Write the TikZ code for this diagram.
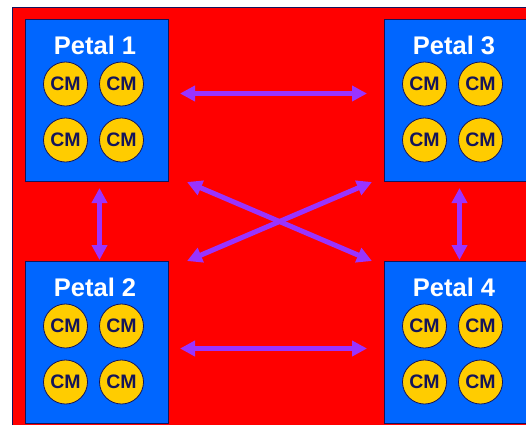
\documentclass[tikz,border=0pt]{standalone}
\usepackage{fontspec}
\setmainfont{Liberation Sans}
\usepackage{tikz}
\usetikzlibrary{arrows.meta}

\definecolor{navy}{RGB}{20,20,90}
\definecolor{redbg}{RGB}{255,0,0}
\definecolor{petalblue}{RGB}{0,102,255}
\definecolor{cmgold}{RGB}{255,204,0}
\definecolor{linkviolet}{RGB}{153,51,255}

\tikzset{
  petal/.style={draw=navy,line width=1pt,fill=petalblue,minimum width=143pt,minimum height=162pt,inner sep=0pt},
  petaltitle/.style={text=white,font=\fontsize{25.5}{27}\selectfont\bfseries},
  cmnode/.style={circle,draw=navy,line width=0.8pt,fill=cmgold,minimum size=44pt,inner sep=0pt,text=navy,font=\fontsize{19.5}{20}\selectfont\bfseries},
  link/.style={linkviolet,line width=5pt,{Triangle[length=15pt,width=15pt]}-{Triangle[length=15pt,width=15pt]}}
}

\begin{document}
\begin{tikzpicture}[x=1pt,y=-1pt]
\useasboundingbox (0,0) rectangle (526,424);
\fill[white] (0,0) rectangle (526,424);
\draw[navy,line width=1pt,fill=redbg] (12,7) rectangle (540,440);

% four petals, each with its four CMs
\foreach \name/\x/\y/\n in {p1/25/19/1,p2/25/261/2,p3/384/19/3,p4/384/261/4} {
  \node[petal,anchor=north west] (\name) at (\x,\y) {};
  \node[petaltitle] (\name t) at (\x+70,\y+26) {Petal \n};
  \node[cmnode] (\name a) at (\x+40.5,\y+65) {CM};
  \node[cmnode] (\name b) at (\x+96.5,\y+65) {CM};
  \node[cmnode] (\name c) at (\x+40.5,\y+121) {CM};
  \node[cmnode] (\name d) at (\x+96.5,\y+121) {CM};
}

% links between petals
\draw[link,shorten <=11pt,shorten >=17pt] ([yshift=7pt]p1.east) -- ([yshift=7pt]p3.west);
\draw[link,shorten <=11pt,shorten >=17pt] ([yshift=-6pt]p2.east) -- ([yshift=-6pt]p4.west);
\draw[link,shorten <=6pt,shorten >=1pt] ([xshift=2.5pt]p1.south) -- ([xshift=2.5pt]p2.north);
\draw[link,shorten <=6pt,shorten >=1pt] ([xshift=3.5pt]p3.south) -- ([xshift=3.5pt]p4.north);
\draw[link] ([xshift=18pt]p1.south east) -- ([xshift=-12pt]p4.north west);
\draw[link] ([xshift=18pt]p2.north east) -- ([xshift=-12pt]p3.south west);
\end{tikzpicture}
\end{document}
